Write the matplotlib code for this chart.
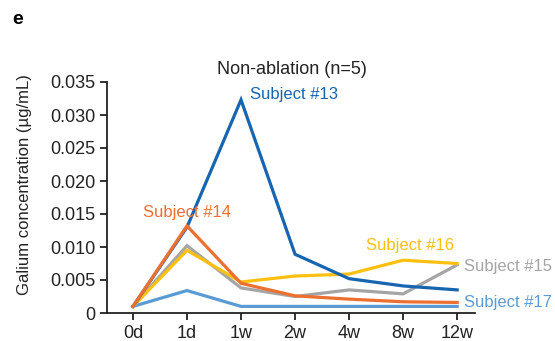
import matplotlib.pyplot as plt

plt.rcParams['font.family'] = ['Liberation Sans', 'DejaVu Sans']

# Time points and gallium concentrations (µg/mL) per subject
timepoints = ['0d', '1d', '1w', '2w', '4w', '8w', '12w']
subject_13 = [0.0010, 0.0130, 0.0323, 0.0089, 0.0052, 0.0041, 0.0035]
subject_14 = [0.0010, 0.0132, 0.0045, 0.0026, 0.0021, 0.0017, 0.0016]
subject_15 = [0.0010, 0.0102, 0.0038, 0.0025, 0.0035, 0.0029, 0.0073]
subject_16 = [0.0010, 0.0095, 0.0047, 0.0056, 0.0059, 0.0080, 0.0075]
subject_17 = [0.0010, 0.0034, 0.0010, 0.0010, 0.0010, 0.0010, 0.0010]

fig = plt.figure(figsize=(5.55, 3.41), dpi=100)
ax = fig.add_axes([107 / 555, 1 - 313 / 341, (475 - 107) / 555, (313 - 82) / 341])

x = list(range(len(timepoints)))
lw = 2.3
# drawn bottom to top
ax.plot(x, subject_17, color='#5b9bd5', lw=lw, solid_joinstyle='miter')
ax.plot(x, subject_15, color='#a5a5a5', lw=lw, solid_joinstyle='miter')
ax.plot(x, subject_16, color='#fdbf10', lw=lw, solid_joinstyle='miter')
ax.plot(x, subject_13, color='#1765b0', lw=lw, solid_joinstyle='miter')
ax.plot(x, subject_14, color='#ec7030', lw=lw, solid_joinstyle='miter')

ax.set_xlim(-0.48, 6.33)
ax.set_ylim(0, 0.035)
ax.set_xticks(x)
ax.set_xticklabels(timepoints)
ax.set_yticks([0, 0.005, 0.010, 0.015, 0.020, 0.025, 0.030, 0.035])
ax.set_yticklabels(['0', '0.005', '0.010', '0.015', '0.020', '0.025', '0.030', '0.035'])
ax.tick_params(labelsize=13, width=1.3, length=5, color='#222222', labelcolor='#222222')
for side in ['top', 'right']:
    ax.spines[side].set_visible(False)
for side in ['left', 'bottom']:
    ax.spines[side].set_linewidth(1.3)
    ax.spines[side].set_color('#222222')

ax.set_ylabel('Galium concentration (µg/mL)', fontsize=12, color='#222222')
ax.yaxis.set_label_coords(-0.204, 0.554)

# subject labels
fs = 12
ax.text(2.17, 0.0331, 'Subject #13', color='#1765b0', fontsize=fs, va='center', ha='left')
ax.text(1.0, 0.0152, 'Subject #14', color='#ec7030', fontsize=fs, va='center', ha='center')
ax.text(5.12, 0.0102, 'Subject #16', color='#fdbf10', fontsize=fs, va='center', ha='center')
ax.text(6.13, 0.0070, 'Subject #15', color='#a5a5a5', fontsize=fs, va='center', ha='left',
        clip_on=False)
ax.text(6.13, 0.0016, 'Subject #17', color='#5b9bd5', fontsize=fs, va='center', ha='left',
        clip_on=False)

fig.text(292 / 555, 1 - 70 / 341, 'Non-ablation (n=5)', fontsize=13, ha='center', va='center',
         color='#222222')
fig.text(12 / 555, 1 - 20 / 341, 'e', fontsize=14, fontweight='bold', ha='left', va='center')

fig.savefig('out.png', dpi=100)
